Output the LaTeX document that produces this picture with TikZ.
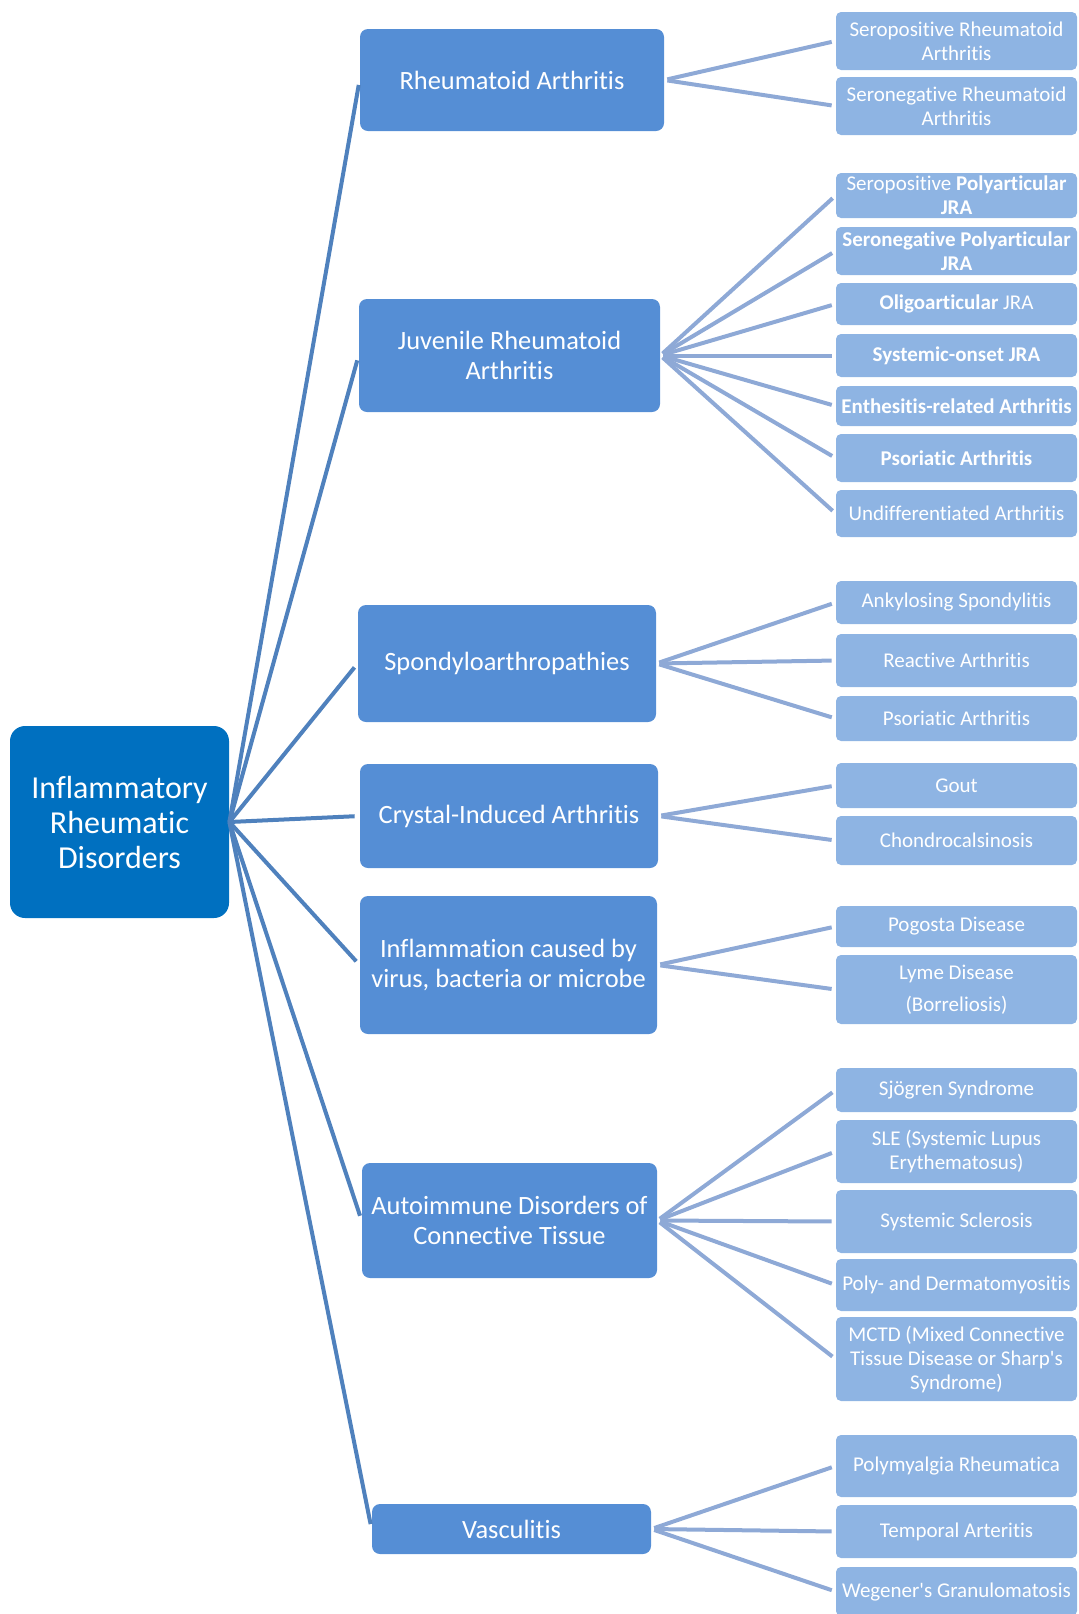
\documentclass[tikz,border=0pt]{standalone}
\usepackage{fontspec}
\setmainfont{Carlito}[RawFeature={-liga;-clig;-dlig;-calt;-hlig}]
\usepackage{tikz}
\usetikzlibrary{positioning}

\definecolor{rootblue}{HTML}{0070C0}
\definecolor{groupblue}{HTML}{558ED5}
\definecolor{leafblue}{HTML}{8EB4E3}
\definecolor{trunkline}{HTML}{4F81BD}
\definecolor{branchline}{HTML}{8EA9D6}

\begin{document}
\begin{tikzpicture}[
    x=0.5pt, y=-0.5pt,
    root/.style={rectangle, rounded corners=7.5pt, fill=rootblue, text=white, align=center, minimum width=109.5pt, minimum height=96pt, inner sep=2pt, font=\fontsize{16}{17.5}\selectfont},
    group/.style={rectangle, rounded corners=4pt, fill=groupblue, text=white, align=center, minimum width=149pt, inner sep=2pt, font=\fontsize{13.2}{15}\selectfont},
    leaf/.style={rectangle, rounded corners=2.5pt, fill=leafblue, text=white, align=center, minimum width=120.5pt, inner sep=0.5pt, font=\fontsize{10.5}{12}\selectfont},
    % --- connectors ---
    trunk/.style={draw=trunkline, line width=2pt, shorten >=2.5pt},
    branch/.style={draw=branchline, line width=2pt, shorten <=1.5pt, shorten >=2pt}
]
\useasboundingbox (0,0) rectangle (1078,1614);
\clip (0,0) rectangle (1078,1614);

% Root
\node[root] (IRD) at (119.5,822) {Inflammatory\\Rheumatic\\Disorders};

% Groups
\node[group, minimum width=152pt, minimum height=51pt] (RA) at (512,80) {Rheumatoid Arthritis};
\node[group, minimum width=150.5pt, minimum height=56.5pt] (JRA) at (509.5,355.5) {Juvenile Rheumatoid\\Arthritis};
\node[group, minimum height=58.5pt] (SpA) at (507,663.5) {Spondyloarthropathies};
\node[group, minimum height=52pt] (CIA) at (509,816) {Crystal-Induced Arthritis};
\node[group, minimum width=148.5pt, minimum height=69pt] (Inf) at (508.5,965) {Inflammation caused by\\virus, bacteria or microbe};
\node[group, minimum width=147.5pt, minimum height=57.5pt] (AID) at (509.5,1220.5) {Autoimmune Disorders of\\Connective Tissue};
\node[group, minimum width=139.5pt, minimum height=25pt] (Vas) at (511.5,1529) {Vasculitis};

% Rheumatoid Arthritis
\node[leaf, minimum height=29pt] (RA1) at (956.5,41) {Seropositive Rheumatoid\\Arthritis};
\node[leaf, minimum height=29pt] (RA2) at (956.5,106) {Seronegative Rheumatoid\\Arthritis};

% Juvenile Rheumatoid Arthritis
\node[leaf, minimum height=22.5pt] (JRA1) at (956.5,195.5) {Seropositive \textbf{Polyarticular}\\\textbf{JRA}};
\node[leaf, minimum height=24pt] (JRA2) at (956.5,251) {\textbf{Seronegative Polyarticular}\\\textbf{JRA}};
\node[leaf, minimum height=21pt] (JRA3) at (956.5,304) {\textbf{Oligoarticular} JRA};
\node[leaf, minimum height=21.5pt] (JRA4) at (956.5,355.5) {\textbf{Systemic-onset JRA}};
\node[leaf, minimum height=20pt] (JRA5) at (956.5,406) {\textbf{Enthesitis-related Arthritis}};
\node[leaf, minimum height=24pt] (JRA6) at (956.5,458) {\textbf{Psoriatic Arthritis}};
\node[leaf, minimum height=23.5pt] (JRA7) at (956.5,513.5) {Undifferentiated Arthritis};

% Spondyloarthropathies
\node[leaf, minimum height=21.5pt] (SpA1) at (956.5,602.5) {Ankylosing Spondylitis};
\node[leaf, minimum height=26.5pt] (SpA2) at (956.5,660.5) {Reactive Arthritis};
\node[leaf, minimum height=22.5pt] (SpA3) at (956.5,718.5) {Psoriatic Arthritis};

% Crystal-Induced Arthritis
\node[leaf, minimum height=22.5pt] (CIA1) at (956.5,785.5) {Gout};
\node[leaf, minimum height=24.5pt] (CIA2) at (956.5,840.5) {Chondrocalsinosis};

% Inflammation
\node[leaf, minimum height=20.5pt] (Inf1) at (956.5,926.5) {Pogosta Disease};
\node[leaf, minimum height=34.5pt] (Inf2) at (956.5,989.5) {Lyme Disease\\[4pt](Borreliosis)};

% Autoimmune Disorders
\node[leaf, minimum height=22pt] (AID1) at (956.5,1090) {Sjögren Syndrome};
\node[leaf, minimum height=31.5pt] (AID2) at (956.5,1151.5) {SLE (Systemic Lupus\\Erythematosus)};
\node[leaf, minimum height=31.5pt] (AID3) at (956.5,1221.5) {Systemic Sclerosis};
\node[leaf, minimum height=26pt] (AID4) at (956.5,1285) {Poly- and Dermatomyositis};
\node[leaf, minimum height=42pt] (AID5) at (956.5,1359) {MCTD (Mixed Connective\\Tissue Disease or Sharp\textquotesingle s\\Syndrome)};

% Vasculitis
\node[leaf, minimum height=31pt] (Vas1) at (956.5,1466) {Polymyalgia Rheumatica};
\node[leaf, minimum height=26.5pt] (Vas2) at (956.5,1531.5) {Temporal Arteritis};
\node[leaf, minimum height=24.5pt] (Vas3) at (956.5,1591.5) {Wegener\textquotesingle s Granulomatosis};

% Root -> groups
\draw[trunk] (IRD.east) -- (RA.west);
\draw[trunk] (IRD.east) -- (JRA.west);
\draw[trunk] (IRD.east) -- (SpA.west);
\draw[trunk] (IRD.east) -- (CIA.west);
\draw[trunk] (IRD.east) -- (Inf.west);
\draw[trunk] (IRD.east) -- (AID.west);
\draw[trunk] (IRD.east) -- (Vas.west);

% Groups -> leaves
\draw[branch] (RA.east) -- (RA1.west);
\draw[branch] (RA.east) -- (RA2.west);
\draw[branch] (JRA.east) -- (JRA1.west);
\draw[branch] (JRA.east) -- (JRA2.west);
\draw[branch] (JRA.east) -- (JRA3.west);
\draw[branch] (JRA.east) -- (JRA4.west);
\draw[branch] (JRA.east) -- (JRA5.west);
\draw[branch] (JRA.east) -- (JRA6.west);
\draw[branch] (JRA.east) -- (JRA7.west);
\draw[branch] (SpA.east) -- (SpA1.west);
\draw[branch] (SpA.east) -- (SpA2.west);
\draw[branch] (SpA.east) -- (SpA3.west);
\draw[branch] (CIA.east) -- (CIA1.west);
\draw[branch] (CIA.east) -- (CIA2.west);
\draw[branch] (Inf.east) -- (Inf1.west);
\draw[branch] (Inf.east) -- (Inf2.west);
\draw[branch] (AID.east) -- (AID1.west);
\draw[branch] (AID.east) -- (AID2.west);
\draw[branch] (AID.east) -- (AID3.west);
\draw[branch] (AID.east) -- (AID4.west);
\draw[branch] (AID.east) -- (AID5.west);
\draw[branch] (Vas.east) -- (Vas1.west);
\draw[branch] (Vas.east) -- (Vas2.west);
\draw[branch] (Vas.east) -- (Vas3.west);

\end{tikzpicture}
\end{document}
